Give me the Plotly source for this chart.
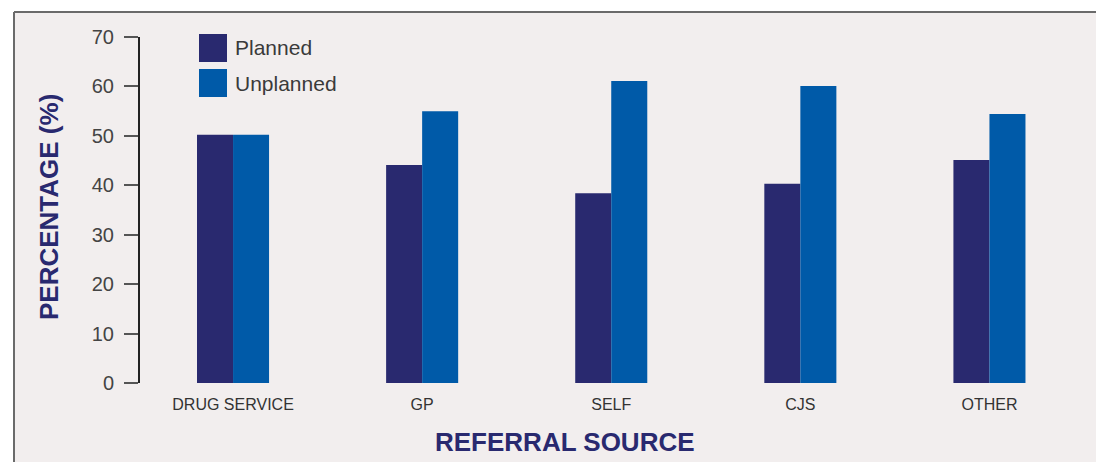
import plotly.graph_objects as go

categories = ["DRUG SERVICE", "GP", "SELF", "CJS", "OTHER"]
planned = [50.2, 44.1, 38.4, 40.3, 45.1]
unplanned = [50.2, 55.0, 61.1, 60.1, 54.4]
series_names = ["Planned", "Unplanned"]
y_ticks = [0, 10, 20, 30, 40, 50, 60, 70]

C_PLANNED = "#29296f"
C_UNPLANNED = "#005aa8"
BG = "#f2eeee"
TITLE_C = "#29296f"

fig = go.Figure()
fig.add_trace(go.Bar(x=categories, y=planned, name=series_names[0], marker_color=C_PLANNED, marker_line_width=0))
fig.add_trace(go.Bar(x=categories, y=unplanned, name=series_names[1], marker_color=C_UNPLANNED, marker_line_width=0))

# page body has an 8px margin; screenshot coordinates below
OFF = 8
W, H = 1104 - OFF, 462 - OFF
L, R, T, B = 140, 1084, 37, 383  # plot area in screenshot px
def px(x):
    return (x - L) / (R - L)
def py(y):
    return (B - y) / (B - T)

shapes = [
    dict(type="rect", xref="paper", yref="paper", x0=px(14), x1=px(1120), y0=py(480), y1=py(12),
         fillcolor=BG, line_width=0, layer="below"),
    dict(type="line", xref="paper", yref="paper", x0=px(14), x1=px(1120), y0=py(12), y1=py(12),
         line=dict(color="#6a6a6a", width=2)),
    dict(type="line", xref="paper", yref="paper", x0=px(14), x1=px(14), y0=py(480), y1=py(12),
         line=dict(color="#6a6a6a", width=2)),
]
annotations = []
legend_colors = [C_PLANNED, C_UNPLANNED]
legend_tops = [34, 69]
for name, col, top in zip(series_names, legend_colors, legend_tops):
    shapes.append(dict(type="rect", xref="paper", yref="paper", x0=px(199), x1=px(227),
                       y0=py(top + 28), y1=py(top), fillcolor=col, line_width=0))
    annotations.append(dict(text=name, xref="paper", yref="paper", x=px(233), y=py(top + 14),
                            xanchor="left", yanchor="middle", showarrow=False,
                            font=dict(family="Liberation Sans, Arial", size=21, color="#3a3a3a")))

annotations.append(dict(text="<b>REFERRAL SOURCE</b>", xref="paper", yref="paper", x=px(565), y=py(442),
                        xanchor="center", yanchor="middle", showarrow=False,
                        font=dict(family="Liberation Sans Narrow, Arial Narrow, Liberation Sans", size=26, color=TITLE_C)))
annotations.append(dict(text="<b>PERCENTAGE (%)</b>", xref="paper", yref="paper", x=px(49), y=py(207),
                        xanchor="center", yanchor="middle", showarrow=False, textangle=-90,
                        font=dict(family="Liberation Sans, Arial", size=26, color=TITLE_C)))

fig.update_layout(
    width=W, height=H,
    margin=dict(l=L - OFF, r=W - (R - OFF), t=T - OFF, b=H - (B - OFF), autoexpand=False),
    paper_bgcolor="white", plot_bgcolor=BG,
    barmode="group", bargap=0.619, bargroupgap=0,
    showlegend=False,
    shapes=shapes, annotations=annotations,
    xaxis=dict(range=[-0.492, 4.5], showline=False, showgrid=False, zeroline=False, ticks="",
               ticklabelstandoff=10,
               tickfont=dict(family="Liberation Sans Narrow, Arial Narrow, Liberation Sans", size=16, color="#333333")),
    yaxis=dict(range=[0, 70], tickvals=y_ticks, showgrid=False, zeroline=False,
               showline=True, linecolor="#222222", linewidth=2,
               ticks="outside", ticklen=14, tickwidth=1.5, tickcolor="#555555",
               ticklabelstandoff=6,
               tickfont=dict(family="Liberation Sans, Arial", size=20, color="#444444")),
)

fig.write_html("out.html")
